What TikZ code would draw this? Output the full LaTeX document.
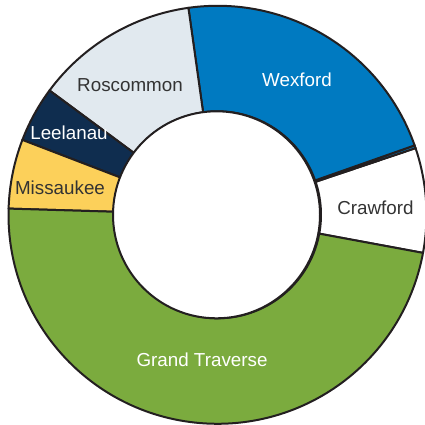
\documentclass[tikz,border=0pt]{standalone}
\usepackage{fontspec}
\setmainfont{Liberation Sans}
\usepackage{xcolor}
\usetikzlibrary{positioning}
\definecolor{ringLine}   {RGB}{35,  31,  32}
\definecolor{ringText}   {RGB}{51,  51,  51}
\definecolor{ringBlue}   {RGB}{0,  122, 193}
\definecolor{ringMist}   {RGB}{225, 233, 239}
\definecolor{ringNavy}   {RGB}{15,  45,  79}
\definecolor{ringGold}   {RGB}{252, 208, 90}
\definecolor{ringGreen}  {RGB}{123, 171, 62}

\tikzset{
  slice/.style={draw=ringLine,line width=2pt,line join=round},
  countylabel/.style={anchor=base,inner sep=0pt,font=\fontsize{18.8}{22}\selectfont}
}

\begin{document}
\begin{tikzpicture}[x=1pt,y=1pt]
  \useasboundingbox (0,0) rectangle (425,425);
  \clip (0,0) rectangle (425,425);

  % Fatias do anel
  \begin{scope}[shift={(217.5,210.2)}]
    \foreach \a/\b/\cor in {
      -10.5/18.6/white,
      18.6/19.4/ringBlue,
      19.4/98/ringBlue,
      98/143.5/ringMist,
      143.5/159/ringNavy,
      159/178.3/ringGold,
      178.3/349.5/ringGreen}{
      \path[slice,fill=\cor] (\a:209) arc[start angle=\a,end angle=\b,radius=209]
        -- (\b:103.5) arc[start angle=\b,end angle=\a,radius=103.5] -- cycle;
    }
    % Furo central
    \path[slice,fill=white] (-1,0) circle[radius=103.5];
  \end{scope}

  % Rotulos
  \node[countylabel,ringText] (roscommon) at (130,333)   {Roscommon};
  \node[countylabel,white]    (wexford)   at (297,338)   {Wexford};
  \node[countylabel,ringText] (crawford)  at (375.5,210) {Crawford};
  \node[countylabel,white]    (grand)     at (202,58)    {Grand Traverse};
  \node[countylabel,ringText] (missaukee) at (60,230)    {Missaukee};
  \node[countylabel,white]    (leelanau)  at (69,285)    {Leelanau};

\end{tikzpicture}
\end{document}
